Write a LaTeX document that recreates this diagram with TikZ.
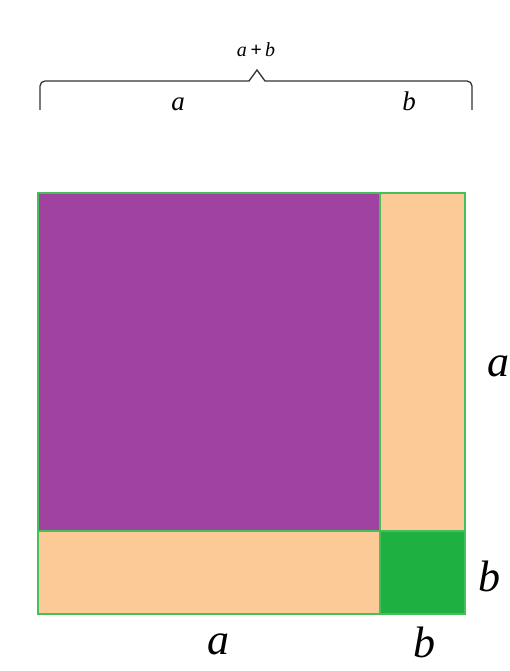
\documentclass[tikz,border=0pt]{standalone}
\usepackage{fontspec}
\setmainfont{Liberation Serif}
\usepackage{xcolor}
\definecolor{sqpurple}{RGB}{160,66,160}
\definecolor{sqpeach}{RGB}{252,202,150}
\definecolor{sqgreen}{RGB}{30,176,64}
\definecolor{sqedge}{RGB}{70,190,90}

\begin{document}
\begin{tikzpicture}[x=1pt, y=-1pt,
    part/.style={draw=sqedge, line width=1.5pt},
    biglbl/.style={font=\fontsize{44}{52}\selectfont\itshape, inner sep=0pt},
    smalllbl/.style={font=\fontsize{27}{32}\selectfont\itshape, inner sep=0pt},
    toplbl/.style={font=\fontsize{20}{24}\selectfont\itshape, inner sep=0pt},
    brace/.style={draw=black!80, line width=1.3pt}
]
\useasboundingbox (0,0) rectangle (510,671);
% the four parts of the square
\fill[sqpurple] (38,193) rectangle (380,531);
\fill[sqpeach] (380,193) rectangle (465,531);
\fill[sqpeach] (38,531) rectangle (380,614);
\fill[sqgreen] (380,531) rectangle (465,614);
\draw[part] (38,193) rectangle (465,614);
\draw[part] (380,193) -- (380,614);
\draw[part] (38,531) -- (465,531);
% brace on top
\draw[brace] (40,110) [rounded corners=5pt] -- (40,81) [sharp corners] -- (249,81)
    -- (257,70) -- (265,81) [rounded corners=5pt] -- (472,81) [sharp corners] -- (472,110);
\node[toplbl] (sum) at (256,50) {a\,{\bfseries+}\,b};
\node[smalllbl] (ta) at (178,104) {a};
\node[smalllbl] (tb) at (409,101) {b};
% side labels
\node[biglbl] (ra) at (498,366) {a};
\node[biglbl] (rb) at (489,576) {b};
\node[biglbl] (ba) at (218,644) {a};
\node[biglbl] (bb) at (424,642) {b};
\end{tikzpicture}
\end{document}
